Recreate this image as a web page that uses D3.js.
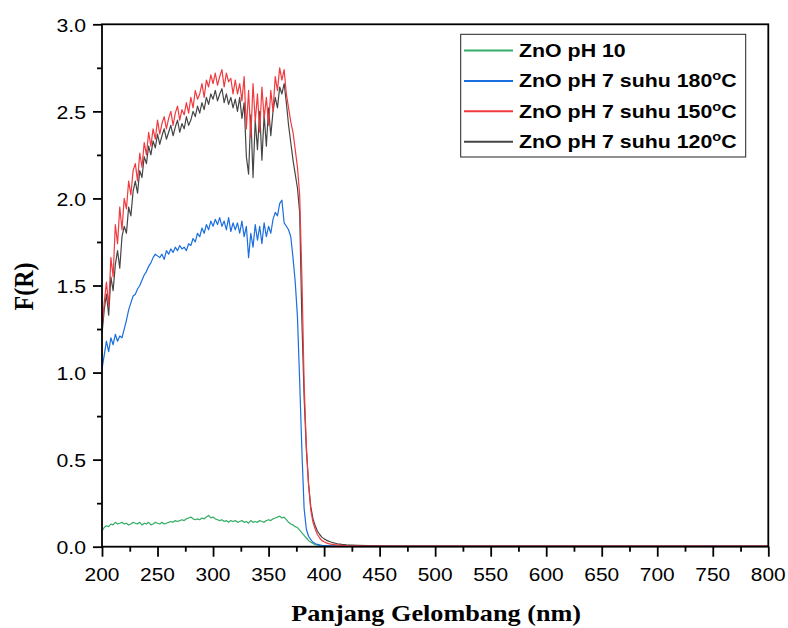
<!DOCTYPE html>
<html><head><meta charset="utf-8">
<script src="https://cdn.jsdelivr.net/npm/d3@7"></script>
<style>body{margin:0;background:#fff}svg{display:block}</style>
</head><body>
<script>
// ---------- data ----------
const wavelengths = [
200,202,204,206,208,210,212,214,216,218,
220,222,224,226,228,230,232,234,236,238,
240,242,244,246,248,250,252,254,256,258,
260,262,264,266,268,270,272,274,276,278,
280,282,284,286,288,290,292,294,296,298,
300,302,304,306,308,310,312,314,316,318,
320,322,324,326,328,330,332,334,336,338,
340,342,344,346,348,350,352,354,356,358,
360,362,364,366,368,370,372,374,376,378,
380,382,384,386,388,390,392,394,396,398,
400,402,404,406,408,410,412,414,416,418,
420,
430,440,450,460,470,480,490,500,510,520,
530,540,550,560,570,580,590,600,610,620,
630,640,650,660,670,680,690,700,710,720,
730,740,750,760,770,780,790,800];

const znoPH10 = [
0.09,0.11,0.12,0.115,0.13,0.125,0.14,0.13,0.135,0.14,
0.13,0.135,0.125,0.13,0.14,0.135,0.13,0.14,0.125,0.135,
0.13,0.14,0.125,0.13,0.14,0.135,0.13,0.14,0.13,0.135,
0.14,0.145,0.14,0.15,0.145,0.15,0.155,0.15,0.16,0.165,
0.17,0.16,0.155,0.16,0.155,0.165,0.16,0.17,0.18,0.165,
0.17,0.16,0.155,0.15,0.155,0.145,0.15,0.14,0.15,0.145,
0.15,0.14,0.145,0.15,0.14,0.145,0.135,0.15,0.14,0.145,
0.14,0.15,0.145,0.14,0.15,0.155,0.15,0.16,0.165,0.17,
0.175,0.165,0.17,0.155,0.14,0.13,0.125,0.115,0.11,0.095,
0.08,0.065,0.05,0.035,0.025,0.018,0.012,0.009,0.007,0.005,
0.004,0.003,0.003,0.003,0.003,0.003,0.003,0.003,0.003,0.003,
0.003,
0.003,0.003,0.003,0.003,0.003,0.003,0.003,0.003,0.003,0.003,
0.003,0.003,0.003,0.003,0.003,0.003,0.003,0.003,0.003,0.003,
0.003,0.003,0.003,0.003,0.003,0.003,0.003,0.003,0.003,0.003,
0.003,0.003,0.003,0.003,0.003,0.003,0.003,0.003];

const znoPH7_180 = [
1.02,1.10,1.18,1.12,1.20,1.16,1.22,1.18,1.21,1.20,
1.25,1.30,1.36,1.40,1.44,1.45,1.48,1.50,1.53,1.56,
1.58,1.61,1.63,1.66,1.68,1.67,1.66,1.68,1.65,1.70,
1.68,1.71,1.69,1.72,1.70,1.73,1.71,1.72,1.70,1.74,
1.73,1.77,1.75,1.80,1.78,1.83,1.80,1.85,1.82,1.87,
1.84,1.88,1.85,1.89,1.84,1.87,1.82,1.89,1.81,1.86,
1.82,1.86,1.80,1.87,1.78,1.84,1.66,1.80,1.72,1.85,
1.76,1.84,1.74,1.86,1.78,1.84,1.80,1.88,1.92,1.90,
1.97,1.99,1.86,1.84,1.82,1.78,1.66,1.52,1.32,0.95,
0.55,0.22,0.10,0.06,0.04,0.025,0.018,0.013,0.010,0.008,
0.007,0.006,0.006,0.005,0.005,0.005,0.004,0.004,0.004,0.004,
0.004,
0.004,0.004,0.004,0.004,0.004,0.004,0.004,0.004,0.004,0.004,
0.004,0.004,0.004,0.004,0.004,0.004,0.004,0.004,0.004,0.004,
0.004,0.004,0.004,0.004,0.004,0.004,0.004,0.004,0.004,0.004,
0.004,0.004,0.005,0.004,0.004,0.004,0.004,0.004];

const znoPH7_150 = [
1.25,1.40,1.52,1.38,1.66,1.55,1.85,1.74,1.95,1.82,
2.00,1.94,2.10,2.02,2.16,2.20,2.10,2.26,2.18,2.32,
2.25,2.38,2.30,2.40,2.34,2.45,2.37,2.43,2.47,2.40,
2.46,2.50,2.42,2.49,2.53,2.45,2.51,2.48,2.55,2.49,
2.58,2.52,2.62,2.57,2.60,2.66,2.58,2.68,2.64,2.71,
2.66,2.72,2.65,2.70,2.74,2.64,2.72,2.67,2.69,2.60,
2.68,2.60,2.66,2.56,2.70,2.40,2.62,2.35,2.66,2.44,
2.60,2.38,2.64,2.46,2.58,2.42,2.62,2.50,2.70,2.62,
2.75,2.68,2.74,2.60,2.52,2.44,2.38,2.28,2.18,2.02,
1.55,0.94,0.58,0.36,0.21,0.14,0.10,0.07,0.05,0.035,
0.028,0.022,0.018,0.015,0.013,0.011,0.010,0.009,0.008,0.007,
0.006,
0.005,0.004,0.004,0.003,0.003,0.003,0.003,0.003,0.003,0.003,
0.003,0.003,0.003,0.003,0.003,0.003,0.003,0.003,0.003,0.003,
0.003,0.003,0.003,0.003,0.003,0.003,0.003,0.003,0.003,0.003,
0.003,0.003,0.003,0.003,0.003,0.003,0.003,0.003];

const znoPH7_120 = [
1.22,1.36,1.45,1.33,1.55,1.47,1.62,1.70,1.60,1.78,
1.84,1.80,1.95,1.90,2.04,2.10,2.03,2.16,2.12,2.24,
2.20,2.30,2.25,2.33,2.29,2.37,2.31,2.36,2.40,2.34,
2.38,2.42,2.36,2.41,2.45,2.38,2.43,2.40,2.47,2.42,
2.45,2.50,2.47,2.53,2.49,2.55,2.51,2.58,2.54,2.60,
2.57,2.62,2.56,2.60,2.63,2.55,2.60,2.54,2.58,2.52,
2.57,2.50,2.58,2.46,2.55,2.24,2.14,2.48,2.12,2.45,
2.28,2.50,2.22,2.48,2.30,2.52,2.36,2.50,2.58,2.52,
2.64,2.60,2.66,2.55,2.42,2.32,2.22,2.14,2.06,1.92,
1.30,0.86,0.56,0.36,0.23,0.16,0.12,0.09,0.07,0.055,
0.045,0.038,0.032,0.027,0.023,0.020,0.017,0.015,0.013,0.012,
0.011,
0.008,0.006,0.005,0.004,0.004,0.004,0.003,0.003,0.003,0.003,
0.003,0.003,0.003,0.003,0.003,0.003,0.003,0.003,0.003,0.003,
0.003,0.003,0.003,0.003,0.003,0.003,0.003,0.003,0.003,0.003,
0.003,0.003,0.003,0.003,0.003,0.003,0.003,0.003];

const seriesNames = ["ZnO pH 10", "ZnO pH 7 suhu 180", "ZnO pH 7 suhu 150", "ZnO pH 7 suhu 120"];
const seriesColors = ["#35ad66", "#1a6ee0", "#f03a3e", "#454545"];
const xTicks = [200,250,300,350,400,450,500,550,600,650,700,750,800];
const yTicks = [0.0,0.5,1.0,1.5,2.0,2.5,3.0];
const xMinorTicks = [225,275,325,375,425,475,525,575,625,675,725,775];
const yMinorTicks = [0.25,0.75,1.25,1.75,2.25,2.75];
const xTitle = "Panjang Gelombang (nm)";
const yTitle = "F(R)";

// ---------- drawing ----------
(function () {
const W = 788, H = 628;
const pL = 102, pR = 768.3, pT = 24.3, pB = 546.7;
const svg = d3.select("body").append("svg").attr("width", W).attr("height", H);

const x = d3.scaleLinear().domain([200, 800]).range([pL, pR]);
const y = d3.scaleLinear().domain([0, 3]).range([pB, pT]);

const sansFont = "'Liberation Sans', Arial, sans-serif";
const serifFont = "'Liberation Serif', 'Times New Roman', serif";

svg.append("defs").append("clipPath").attr("id", "clip")
  .append("rect").attr("x", pL).attr("y", pT).attr("width", pR - pL).attr("height", pB - pT);

// data lines
const allSeries = [znoPH10, znoPH7_180, znoPH7_120, znoPH7_150];
const allColors = [seriesColors[0], seriesColors[1], seriesColors[3], seriesColors[2]];
const line = d3.line().x((d, i) => x(wavelengths[i])).y(d => y(d));
const g = svg.append("g").attr("clip-path", "url(#clip)");
allSeries.forEach((s, k) => {
  g.append("path").datum(s).attr("d", line)
    .attr("fill", "none").attr("stroke", allColors[k]).attr("stroke-width", 1.2)
    .attr("stroke-linejoin", "round");
});

// axes
const xAxis = d3.axisBottom(x).tickValues(xTicks).tickSize(10).tickFormat("");
const xMinor = d3.axisBottom(x).tickValues(xMinorTicks).tickSize(5).tickFormat("");
const yAxis = d3.axisLeft(y).tickValues(yTicks).tickSize(9).tickFormat("");
const yMinor = d3.axisLeft(y).tickValues(yMinorTicks).tickSize(5).tickFormat("");
[[xAxis, `translate(0,${pB})`], [xMinor, `translate(0,${pB})`],
 [yAxis, `translate(${pL},0)`], [yMinor, `translate(${pL},0)`]].forEach(([ax, tr]) => {
  const a = svg.append("g").attr("transform", tr).call(ax);
  a.select(".domain").remove();
  a.selectAll("line").attr("stroke", "#000").attr("stroke-width", 1.8);
});

// frame
svg.append("rect").attr("x", pL).attr("y", pT).attr("width", pR - pL).attr("height", pB - pT)
  .attr("fill", "none").attr("stroke", "#000").attr("stroke-width", 1.8);

function stretchedText(parent, tx, ty, str, opts) {
  return parent.append("text")
    .attr("transform", `translate(${tx},${ty}) scale(${opts.sx || 1},1)`)
    .attr("text-anchor", opts.anchor || "start")
    .attr("font-family", opts.font || sansFont)
    .attr("font-size", opts.size)
    .attr("font-weight", opts.weight || "normal")
    .attr("fill", "#000")
    .text(str);
}

// tick labels
xTicks.forEach(v => stretchedText(svg, x(v), 581, String(v), {anchor: "middle", size: 19, sx: 1.1}));
yTicks.forEach(v => stretchedText(svg, 86, y(v) + 7.5, v.toFixed(1), {anchor: "end", size: 18, sx: 1.18}));

// axis titles
stretchedText(svg, (pL + pR) / 2 + 1, 621, xTitle, {anchor: "middle", size: 23, sx: 1.14, font: serifFont, weight: "bold"});
svg.append("text")
  .attr("transform", `translate(33,${(pT + pB) / 2 + 1}) rotate(-90) scale(1,1.1)`)
  .attr("text-anchor", "middle").attr("font-family", serifFont).attr("font-weight", "bold")
  .attr("font-size", 24).text(yTitle);

// legend
const leg = svg.append("g");
leg.append("rect").attr("x", 460.7).attr("y", 34.3).attr("width", 285).attr("height", 122.7)
  .attr("fill", "#fff").attr("stroke", "#222").attr("stroke-width", 1);
seriesNames.forEach((name, i) => {
  const cy = 50.5 + i * 30.4;
  leg.append("line").attr("x1", 464).attr("x2", 513).attr("y1", cy).attr("y2", cy)
    .attr("stroke", seriesColors[i]).attr("stroke-width", 2);
  const t = stretchedText(leg, 519, cy + 6.3, name, {size: 17.5, sx: 1.22, weight: "bold"});
  if (i > 0) {
    t.append("tspan").attr("dy", -7).attr("font-size", 12).text("o");
    t.append("tspan").attr("dy", 7).text("C");
  }
});
})();
</script>
</body></html>
